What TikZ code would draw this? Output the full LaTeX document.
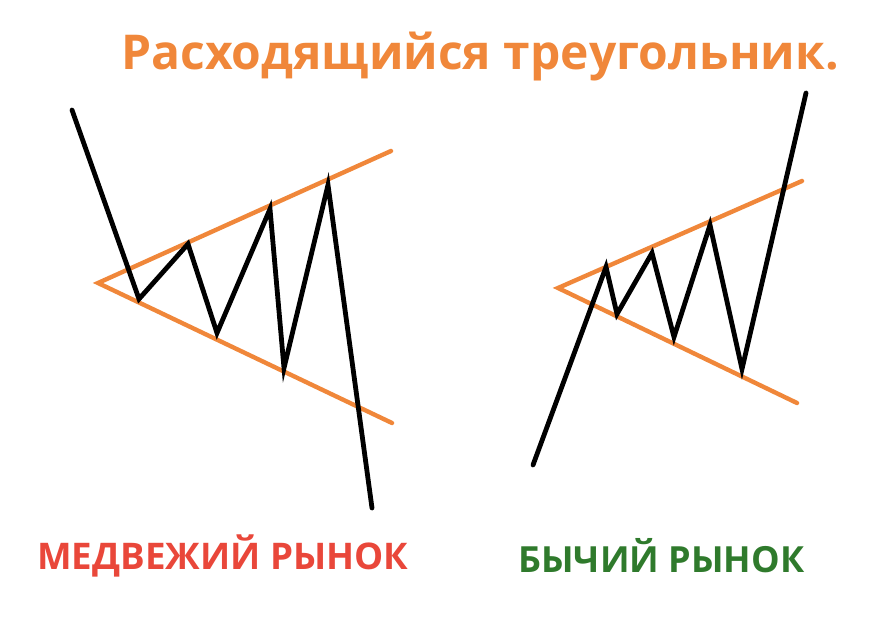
\documentclass[tikz,border=0pt]{standalone}
\usepackage{fontspec}
\setmainfont{Open Sans}
\usetikzlibrary{positioning}
\definecolor{trendorange}{HTML}{F0873A}
\definecolor{bearred}{HTML}{E9473A}
\definecolor{bullgreen}{HTML}{2F7A2C}

\begin{document}
\begin{tikzpicture}
[x=1pt,y=-1pt,
 price/.style={draw=black,line width=4.8pt,line join=miter,line cap=round},
 trend/.style={draw=trendorange,line width=4.4pt,line cap=round},
 caption/.style={font=\bfseries\fontsize{36}{40}\selectfont,inner sep=0pt,anchor=base west}]
\useasboundingbox (0,0) rectangle (896,620);
\node[font=\bfseries\fontsize{48}{54}\selectfont,text=trendorange,inner sep=0pt,anchor=base west](title) at (121,70){Расходящийся треугольник.};
% bear market
\coordinate (a) at (98,283); \coordinate (au) at (391,151); \coordinate (al) at (392,423);
\path[trend] (au) -- (a) -- (al);
\path[price] (72,110) -- (139,299) -- (188,244) -- (217,333) -- (270,209) -- (284,368) -- (328,185) -- (372,508);
\node[caption,text=bearred,font=\bfseries\fontsize{36.7}{40}\selectfont](bear) at (37,569){МЕДВЕЖИЙ РЫНОК};
% bull market
\coordinate (b) at (558,288); \coordinate (bu) at (802,181); \coordinate (bl) at (797,403);
\path[trend] (bu) -- (b) -- (bl);
\path[price] (533,465) -- (606,267) -- (617,314) -- (652,253) -- (674,337) -- (710,225) -- (742,369) -- (806,93);
\node[caption,text=bullgreen](bull) at (518,572){БЫЧИЙ РЫНОК};
\end{tikzpicture}
\end{document}
